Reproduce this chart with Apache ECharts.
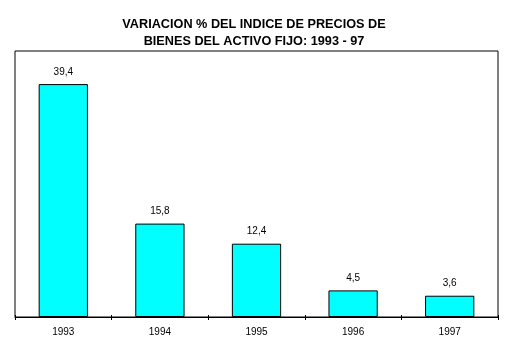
<!DOCTYPE html>
<html>
<head>
<meta charset="utf-8">
<script src="https://cdn.jsdelivr.net/npm/echarts@6/dist/echarts.min.js"></script>
<style>
  html, body { margin: 0; padding: 0; background: #fff; }
  #chart { width: 508px; height: 349px; }
</style>
</head>
<body>
<div id="chart"></div>
<script>
// Annual variation (%) of the fixed-asset price index
const years = ['1993', '1994', '1995', '1996', '1997'];
const variation = [39.4, 15.8, 12.4, 4.5, 3.6];
const titleLines = ['VARIACION % DEL INDICE DE PRECIOS DE', 'BIENES DEL ACTIVO FIJO: 1993 - 97'];

const chart = echarts.init(document.getElementById('chart'), null, { renderer: 'canvas' });

chart.setOption({
  animation: false,
  backgroundColor: '#ffffff',
  title: {
    text: titleLines.join('\n'),
    left: 'center',
    top: 16,
    padding: 0,
    textStyle: {
      fontFamily: 'Arial, "Liberation Sans", sans-serif',
      fontSize: 12.7,
      fontWeight: 'bold',
      color: '#000',
      lineHeight: 17
    }
  },
  grid: {
    left: 15, right: 10, top: 51, bottom: 32,
    show: true,
    borderColor: '#000',
    borderWidth: 1,
    backgroundColor: 'transparent'
  },
  xAxis: [
    {
      type: 'category',
      data: years,
      position: 'bottom',
      axisLine: { show: true, lineStyle: { color: '#000', width: 1 } },
      axisTick: { show: true, alignWithLabel: false, length: 3, lineStyle: { color: '#000' } },
      axisLabel: {
        color: '#000',
        fontFamily: 'Arial, "Liberation Sans", sans-serif',
        fontSize: 10,
        margin: 10
      },
      splitLine: { show: false }
    },
    {
      type: 'category',
      data: years,
      position: 'bottom',
      axisLine: { show: false },
      axisTick: { show: true, inside: true, length: 2, lineStyle: { color: '#000' } },
      axisLabel: { show: false },
      splitLine: { show: false }
    }
  ],
  yAxis: {
    type: 'value',
    min: 0,
    max: 45,
    show: false
  },
  series: [{
    type: 'bar',
    data: variation,
    barWidth: '51%',
    itemStyle: { color: '#00ffff', borderColor: '#000', borderWidth: 1 },
    label: {
      show: true,
      position: 'top',
      distance: 7,
      color: '#000',
      fontFamily: 'Arial, "Liberation Sans", sans-serif',
      fontSize: 10,
      formatter: p => String(p.value).replace('.', ',')
    }
  }]
});
</script>
</body>
</html>
